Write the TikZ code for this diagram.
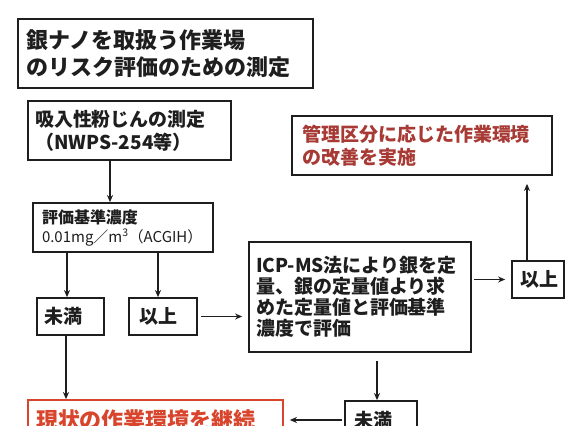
\documentclass[tikz,border=0pt]{standalone}
\usepackage{fontspec}
\setmainfont{Noto Sans CJK JP}
\usetikzlibrary{arrows.meta}
\definecolor{ink}{HTML}{1E1E1E}
\definecolor{darkred}{HTML}{A83A35}
\definecolor{brightred}{HTML}{D8452C}
\begin{document}
\begin{tikzpicture}[x=1pt,y=-1pt,
  box/.style={draw=ink,line width=1.8pt,align=left,inner ysep=0pt,text=ink,
    font=\bfseries\fontsize{19}{23}\selectfont},
  arr/.style={draw=ink,line width=1.4pt,-{Stealth[length=7pt,width=6pt]}}]
\clip (0,0) rectangle (566,426);
\fill[white] (0,0) rectangle (566,426);

\node[box, minimum width=295pt, minimum height=69pt, inner xsep=9pt, text width=277pt,
  font=\bfseries\fontsize{22}{27}\selectfont] (title) at (165.5,53.5)
  {銀ナノを取扱う作業場\\のリスク評価のための測定};

\node[box, minimum width=203pt, minimum height=59pt, inner xsep=7pt, text width=189pt] (b1) at (129.5,130.5)
  {吸入性粉じんの測定\\（NWPS-254等）};

\node[box, minimum width=180pt, minimum height=49pt, inner xsep=9pt, text width=162pt,
  font=\bfseries\fontsize{16}{19}\selectfont] (b2) at (123,227.5)
  {評価基準濃度\\{\mdseries\fontsize{15}{19}\selectfont 0.01mg／m\textsuperscript{3}（ACGIH）}};

\node[box, minimum width=67pt, minimum height=37pt, inner xsep=8pt, text width=51pt] (lt1) at (70.5,316.5) {未満};
\node[box, minimum width=68pt, minimum height=37pt, inner xsep=10pt, text width=48pt] (lt2) at (163,316.5) {以上};

\node[box, minimum width=222pt, minimum height=110pt, inner xsep=7pt, text width=208pt,
  font=\bfseries\fontsize{19}{21}\selectfont] (icp) at (360,297)
  {ICP-MS法により銀を定\\量、銀の定量値より求\\めた定量値と評価基準\\濃度で評価};

\node[box, minimum width=52pt, minimum height=37pt, inner xsep=8pt, text width=36pt] (r1) at (538,279.5) {以上};

\node[box, minimum width=260pt, minimum height=59pt, inner xsep=10pt, text width=240pt, text=darkred] (red1) at (422,145.5)
  {管理区分に応じた作業環境\\の改善を実施};

\node[box, minimum width=72pt, minimum height=38pt, inner xsep=9pt, text width=54pt] (bm) at (381,420) {未満};

\node[box, draw=brightred, text=brightred, minimum width=255pt, minimum height=40pt, inner xsep=8pt, text width=239pt,
  font=\bfseries\fontsize{22}{27}\selectfont] (red2) at (155.5,420) {現状の作業環境を継続};

\draw[arr] ([xshift=-19.5pt]b1.south) -- ([xshift=-19.5pt]b1.south |- b2.north);
\draw[arr] ([xshift=-3.5pt]lt1.north |- b2.south) -- ([xshift=-3.5pt]lt1.north);
\draw[arr] ([xshift=-5pt]lt2.north |- b2.south) -- ([xshift=-5pt]lt2.north);
\draw[arr,shorten <=3pt,shorten >=6pt] (lt2.east) -- (lt2.east -| icp.west);
\draw[arr,shorten <=2pt,shorten >=6pt] (icp.east |- r1.west) -- (r1.west);
\draw[arr,shorten >=8pt] ([xshift=-11pt]r1.north) -- ([xshift=-11pt]r1.north |- red1.south);
\draw[arr,shorten <=8pt] ([xshift=-4pt]bm.north |- icp.south) -- ([xshift=-4pt]bm.north);
\draw[arr,shorten <=2pt,shorten >=6pt] (bm.west) -- (bm.west -| red2.east);
\draw[arr] ([xshift=-4.5pt]lt1.south) -- ([xshift=-4.5pt]lt1.south |- red2.north);
\end{tikzpicture}
\end{document}
